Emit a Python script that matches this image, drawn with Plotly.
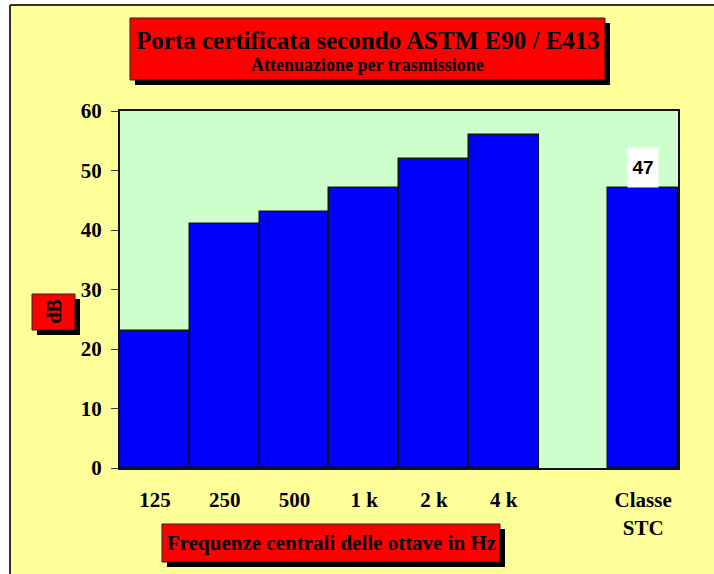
import plotly.graph_objects as go

categories = ["125", "250", "500", "1 k", "2 k", "4 k", "", "Classe<br>STC"]
values = [23, 41, 43, 47, 52, 56, None, 47]
stc_value = 47
y_ticks = [0, 10, 20, 30, 40, 50, 60]

W, H = 714, 574
L, R, T, B = 120, 36, 111, 106
PW, PH = W - L - R, H - T - B

def px(x):
    return (x - L) / PW

def py(y):
    return (H - B - y) / PH

YELLOW = "#FFFF99"
GREEN = "#CCFFCC"
SERIF = "Liberation Serif, Times New Roman, serif"
SANS = "Liberation Sans, Arial, sans-serif"

xs = list(range(len(categories)))
fig = go.Figure()
fig.add_trace(go.Bar(
    x=xs, y=values, width=1.0,
    marker=dict(color="#0000FF", line=dict(color="#111111", width=1.5)),
    hoverinfo="skip", showlegend=False,
))

shapes = []
def box(x0, y0, x1, y1, sh=5):
    shapes.append(dict(type="rect", xref="paper", yref="paper",
                       x0=px(x0 + sh), x1=px(x1 + sh), y0=py(y0 + sh), y1=py(y1 + sh),
                       fillcolor="black", line=dict(width=0), layer="above"))
    shapes.append(dict(type="rect", xref="paper", yref="paper",
                       x0=px(x0), x1=px(x1), y0=py(y0), y1=py(y1),
                       fillcolor="#FF0000", line=dict(color="#222222", width=1), layer="above"))

# white margins and frame
shapes.append(dict(type="rect", xref="paper", yref="paper", x0=px(0), x1=px(10), y0=py(0), y1=py(H),
                   fillcolor="white", line=dict(width=0), layer="above"))
shapes.append(dict(type="rect", xref="paper", yref="paper", x0=px(0), x1=px(W), y0=py(0), y1=py(5),
                   fillcolor="white", line=dict(width=0), layer="above"))
shapes.append(dict(type="line", xref="paper", yref="paper", x0=px(10), x1=px(10), y0=py(5), y1=py(H),
                   line=dict(color="#333333", width=2), layer="above"))
shapes.append(dict(type="line", xref="paper", yref="paper", x0=px(10), x1=px(W), y0=py(5), y1=py(5),
                   line=dict(color="#333333", width=2), layer="above"))

box(130, 18, 605, 80)
box(32, 294, 75, 330)
box(162, 524, 500, 562)

def label(text, x, y, size, family=SERIF, angle=0):
    return dict(text=text, xref="paper", yref="paper", x=px(x), y=py(y),
                xanchor="center", yanchor="middle", textangle=angle, showarrow=False,
                font=dict(family=family, size=size, color="black"))

annotations = [
    label("<b>Porta certificata secondo ASTM E90 / E413</b>", 367.5, 40, 25),
    label("<b>Attenuazione per trasmissione</b>", 367.5, 65, 18),
    label("<b>dB</b>", 53.5, 312, 20, angle=-90),
    label("<b>Frequenze centrali delle ottave in Hz</b>", 331, 543, 21),
    dict(text="<b>%d</b>" % stc_value, x=7, y=stc_value, xref="x", yref="y",
         xanchor="center", yanchor="bottom", showarrow=False, bgcolor="white", width=28, height=37,
         font=dict(family=SANS, size=19, color="black")),
]

fig.update_layout(
    width=W, height=H,
    margin=dict(l=L, r=R, t=T, b=B),
    paper_bgcolor=YELLOW, plot_bgcolor=GREEN,
    bargap=0,
    shapes=shapes, annotations=annotations,
    xaxis=dict(range=[-0.5, 7.5], tickvals=xs, ticktext=["<b>%s</b>" % c for c in categories],
               showgrid=False, zeroline=False, showline=True, mirror=True,
               linecolor="#111111", linewidth=2, ticks="", ticklabelstandoff=12,
               tickfont=dict(family=SERIF, size=21, color="black")),
    yaxis=dict(range=[0, 60], tickvals=y_ticks, ticktext=["<b>%d</b>" % v for v in y_ticks],
               showgrid=False, zeroline=False, showline=True, mirror=True,
               linecolor="#111111", linewidth=2, ticks="outside", ticklen=7,
               tickcolor="#333333", ticklabelstandoff=5,
               tickfont=dict(family=SERIF, size=21, color="black")),
)

fig.write_html("out.html", config={"displayModeBar": False},
               post_script="document.body.style.margin='0px';document.body.style.padding='0px';")
